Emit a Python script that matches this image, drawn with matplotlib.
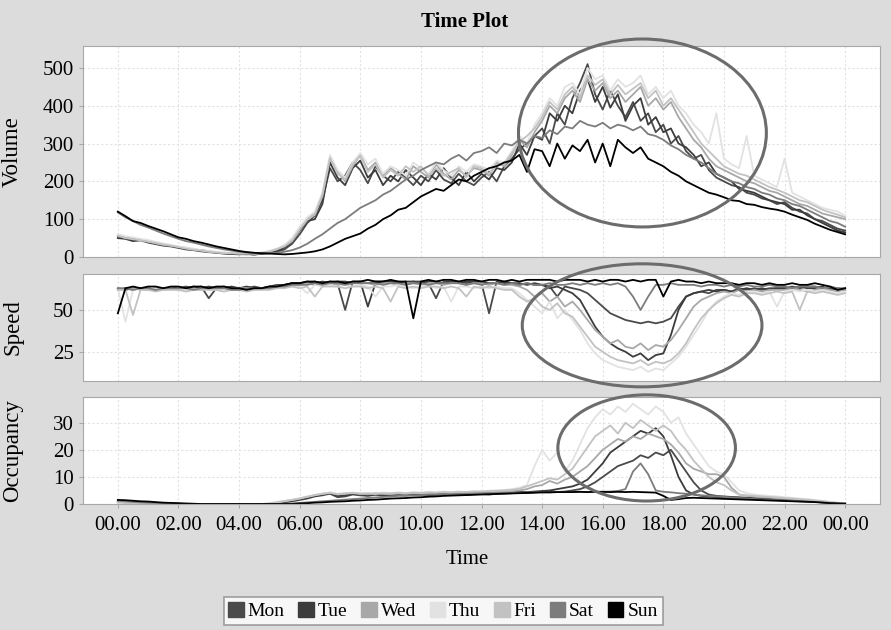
import numpy as np
import matplotlib.pyplot as plt
from matplotlib.patches import Ellipse, Patch

plt.rcParams['font.family'] = ['Liberation Serif', 'DejaVu Serif']

# 15-minute samples, 00.00 to 24.00
hours = np.arange(97) * 0.25
tick_hours = list(range(0, 25, 2))
tick_labels = ['00.00', '02.00', '04.00', '06.00', '08.00', '10.00', '12.00',
               '14.00', '16.00', '18.00', '20.00', '22.00', '00.00']

days = ['Mon', 'Tue', 'Wed', 'Thu', 'Fri', 'Sat', 'Sun']
day_colors = ['#4a4a4a', '#3c3c3c', '#a8a8a8', '#e2e2e2', '#c2c2c2', '#7c7c7c', '#000000']

# ---- Volume ----
mon_volume = [55, 50, 48, 45, 40, 38, 33, 30, 26, 22, 20, 18, 15, 12, 10, 9, 8, 7, 9, 8,
              10, 14, 20, 35, 60, 90, 110, 150, 235, 200, 215, 250, 230, 195, 240, 215,
              200, 225, 210, 190, 215, 200, 230, 205, 195, 220, 200, 190, 210, 225, 200, 240,
              260, 285, 300, 320, 340, 300, 380, 350, 420, 460, 510, 430, 390, 440, 400, 370,
              410, 360, 380, 330, 350, 300, 320, 280, 260, 270, 230, 210, 200, 190, 185, 170,
              165, 155, 150, 140, 145, 130, 120, 115, 100, 95, 85, 75, 70]
tue_volume = [50, 48, 42, 44, 38, 34, 30, 28, 24, 20, 18, 15, 13, 11, 9, 8, 7, 8, 6, 9,
              12, 16, 25, 40, 70, 95, 100, 140, 250, 210, 190, 235, 255, 210, 230, 190,
              215, 200, 230, 210, 190, 220, 205, 235, 210, 190, 225, 200, 220, 205, 235, 230,
              250, 300, 270, 320, 310, 380, 360, 400, 380, 440, 470, 410, 450, 395, 430, 360,
              400, 420, 350, 370, 330, 340, 300, 290, 270, 240, 250, 220, 210, 200, 180, 175,
              170, 160, 150, 145, 140, 125, 125, 110, 100, 90, 80, 70, 65]
wed_volume = [58, 52, 50, 46, 42, 36, 32, 30, 27, 24, 20, 17, 14, 12, 11, 10, 9, 10, 8, 10,
              14, 20, 30, 45, 75, 100, 115, 160, 260, 225, 200, 240, 270, 230, 250, 215,
              235, 220, 205, 240, 225, 210, 245, 220, 205, 230, 215, 235, 230, 215, 250, 240,
              270, 310, 290, 330, 360, 400, 380, 420, 440, 410, 470, 440, 460, 420, 440, 410,
              430, 450, 400, 420, 390, 410, 370, 340, 310, 290, 260, 240, 230, 220, 210, 200,
              195, 185, 175, 170, 160, 150, 140, 135, 125, 115, 110, 105, 100]
thu_volume = [60, 55, 52, 48, 45, 40, 36, 32, 28, 25, 22, 18, 16, 14, 12, 11, 10, 9, 11, 12,
              16, 22, 32, 50, 80, 105, 120, 170, 270, 230, 210, 250, 275, 245, 260, 220,
              240, 230, 215, 250, 235, 220, 250, 230, 215, 240, 225, 245, 240, 230, 255, 250,
              280, 320, 300, 350, 380, 420, 400, 450, 460, 430, 500, 470, 480, 440, 470, 450,
              460, 480, 430, 450, 420, 440, 400, 380, 350, 330, 300, 380, 260, 245, 235, 320,
              215, 205, 195, 185, 260, 170, 160, 150, 140, 130, 125, 120, 110]
fri_volume = [56, 50, 47, 44, 40, 37, 33, 30, 26, 22, 19, 17, 14, 12, 10, 10, 9, 10, 9, 11,
              15, 21, 28, 42, 72, 98, 112, 165, 262, 220, 205, 245, 268, 225, 245, 210,
              230, 215, 240, 225, 240, 215, 235, 215, 225, 235, 210, 240, 235, 220, 245, 245,
              275, 305, 320, 340, 370, 410, 390, 430, 450, 420, 480, 455, 470, 430, 455, 430,
              445, 460, 420, 440, 400, 420, 390, 360, 330, 300, 280, 260, 240, 230, 220, 215,
              205, 195, 185, 178, 170, 160, 150, 145, 135, 125, 118, 112, 105]
sat_volume = [118, 105, 95, 85, 78, 70, 62, 55, 48, 42, 38, 33, 28, 24, 20, 17, 14, 12, 11, 10,
              10, 11, 14, 18, 25, 35, 48, 60, 75, 90, 100, 115, 130, 140, 150, 165,
              175, 190, 205, 215, 230, 240, 250, 245, 260, 270, 255, 275, 280, 290, 275, 300,
              295, 310, 300, 320, 315, 335, 325, 345, 340, 360, 350, 345, 355, 340, 350, 345,
              335, 345, 325, 320, 310, 295, 285, 270, 260, 250, 235, 220, 210, 200, 195, 185,
              180, 170, 165, 155, 150, 140, 135, 125, 115, 105, 95, 90, 80]
sun_volume = [120, 108, 95, 90, 82, 75, 68, 60, 52, 48, 42, 38, 33, 28, 24, 20, 16, 13, 11, 10,
              9, 8, 7, 8, 10, 12, 15, 20, 28, 38, 48, 55, 62, 75, 85, 100,
              110, 125, 130, 145, 160, 170, 180, 175, 190, 205, 200, 215, 225, 235, 240, 250,
              255, 270, 225, 285, 280, 240, 300, 260, 295, 280, 310, 250, 300, 240, 310, 290,
              275, 290, 260, 250, 240, 225, 215, 200, 190, 180, 170, 165, 158, 150, 148, 140,
              138, 132, 128, 125, 120, 112, 105, 98, 88, 80, 72, 66, 60]

# ---- Speed ----
mon_speed = [62, 63, 62, 63, 63, 62, 63, 63, 63, 64, 63, 64, 57, 63, 64, 63, 63, 63, 64, 63,
             64, 65, 65, 66, 66, 66, 67, 66, 67, 66, 50, 67, 67, 66, 67, 67, 67, 67, 66, 67,
             67, 66, 57, 67, 67, 67, 66, 67, 66, 48, 67, 66, 66, 65, 66, 65, 65, 64, 58, 64,
             63, 62, 60, 56, 52, 48, 46, 44, 43, 42, 43, 42, 43, 45, 52, 58, 60, 61, 60, 62,
             62, 61, 63, 62, 63, 62, 63, 63, 63, 64, 63, 64, 64, 63, 63, 62, 62]
tue_speed = [63, 62, 63, 63, 62, 63, 62, 63, 63, 63, 64, 63, 64, 63, 63, 64, 63, 64, 63, 63,
             64, 64, 65, 66, 66, 67, 66, 67, 66, 67, 67, 66, 67, 52, 66, 67, 67, 66, 67, 67,
             66, 67, 67, 66, 67, 66, 67, 67, 67, 66, 66, 67, 66, 66, 65, 66, 65, 63, 64, 62,
             60, 56, 48, 40, 34, 30, 27, 25, 22, 24, 20, 23, 24, 35, 50, 58, 60, 61, 62, 61,
             62, 61, 62, 63, 62, 63, 62, 63, 63, 63, 64, 63, 63, 64, 62, 63, 62]
wed_speed = [62, 63, 63, 62, 63, 62, 63, 63, 62, 63, 63, 62, 63, 62, 63, 63, 63, 63, 62, 63,
             63, 64, 64, 65, 65, 66, 65, 66, 66, 65, 66, 66, 66, 66, 65, 66, 66, 65, 66, 66,
             65, 66, 66, 65, 66, 66, 65, 66, 66, 65, 66, 65, 65, 64, 62, 58, 60, 55, 58, 52,
             55, 50, 44, 38, 34, 30, 32, 28, 27, 30, 26, 29, 28, 32, 38, 45, 52, 56, 58, 60,
             61, 60, 62, 61, 62, 61, 62, 62, 62, 63, 62, 61, 62, 63, 62, 61, 62]
thu_speed = [63, 43, 62, 63, 62, 63, 62, 62, 63, 62, 62, 63, 62, 62, 63, 62, 62, 63, 62, 62,
             63, 63, 64, 64, 64, 60, 65, 64, 65, 64, 65, 64, 65, 64, 58, 64, 64, 65, 64, 63,
             64, 65, 63, 64, 55, 64, 64, 63, 64, 63, 64, 63, 63, 60, 56, 52, 48, 55, 45, 50,
             44, 38, 30, 24, 20, 18, 16, 15, 14, 16, 13, 15, 14, 18, 22, 28, 35, 42, 50, 55,
             58, 60, 59, 61, 61, 60, 61, 52, 61, 62, 61, 62, 61, 62, 61, 60, 61]
fri_speed = [62, 62, 47, 62, 62, 61, 62, 62, 62, 61, 62, 62, 62, 62, 61, 62, 62, 61, 62, 62,
             62, 63, 63, 64, 63, 64, 58, 64, 64, 64, 63, 64, 64, 63, 64, 63, 55, 64, 63, 64,
             63, 64, 64, 63, 64, 63, 58, 64, 63, 64, 63, 62, 62, 58, 55, 57, 52, 50, 54, 48,
             46, 40, 34, 28, 25, 22, 20, 19, 18, 20, 17, 19, 18, 20, 24, 30, 38, 45, 50, 54,
             57, 59, 58, 60, 60, 59, 60, 61, 60, 61, 50, 61, 60, 61, 60, 59, 60]
sat_speed = [63, 63, 62, 63, 63, 62, 63, 63, 63, 63, 62, 63, 63, 63, 63, 62, 62, 63, 63, 63,
             63, 64, 64, 65, 65, 65, 66, 65, 66, 66, 65, 66, 66, 66, 66, 65, 66, 66, 65, 66,
             66, 65, 66, 66, 66, 66, 65, 66, 65, 66, 66, 65, 66, 65, 66, 65, 65, 66, 65, 65,
             66, 65, 66, 65, 66, 65, 66, 64, 58, 50, 58, 65, 65, 66, 65, 65, 65, 64, 65, 65,
             64, 65, 64, 65, 64, 64, 65, 64, 64, 63, 64, 64, 64, 63, 64, 63, 63]
sun_speed = [48, 63, 64, 63, 64, 64, 63, 64, 64, 63, 64, 64, 63, 64, 64, 63, 63, 62, 63, 63,
             64, 64, 65, 66, 66, 67, 67, 66, 67, 67, 66, 67, 67, 68, 67, 67, 68, 67, 67, 45,
             67, 68, 67, 68, 68, 67, 68, 68, 67, 68, 68, 67, 68, 67, 68, 68, 68, 68, 67, 68,
             68, 68, 67, 68, 67, 68, 68, 67, 68, 67, 68, 68, 58, 67, 68, 67, 67, 66, 67, 66,
             66, 66, 65, 66, 66, 65, 66, 65, 65, 66, 65, 65, 66, 65, 64, 62, 63]

# ---- Occupancy ----
mon_occupancy = [1.0, 0.8, 0.5, 0.5, 0.3, 0.2, 0.1, 0.1, 0.1, 0, 0, 0, 0, 0, 0, 0, 0, 0, 0, 0,
                 0, 0.2, 0.6, 1.0, 1.5, 2.0, 2.8, 3.2, 3.8, 2.5, 2.8, 3.5, 3.2, 3.0, 3.4, 3.1,
                 3.0, 3.3, 3.1, 3.4, 3.5, 3.2, 3.4, 3.6, 3.3, 3.5, 3.4, 3.6, 3.7, 3.5, 3.8, 3.9,
                 4.0, 4.2, 4.0, 4.3, 4.5, 4.8, 4.4, 4.6, 5.0, 5.5, 6.5, 8.0, 10, 12, 14, 15,
                 16, 18, 17, 19, 18, 20, 16, 12, 8, 5, 3.5, 3.0, 2.8, 2.6, 2.5, 2.3,
                 2.2, 2.0, 1.9, 1.8, 1.6, 1.5, 1.3, 1.2, 1.0, 0.8, 0.6, 0.3, 0.2]
tue_occupancy = [0.8, 0.6, 0.5, 0.4, 0.3, 0.2, 0.1, 0.1, 0, 0, 0, 0, 0, 0, 0, 0, 0, 0, 0, 0,
                 0, 0.3, 0.7, 1.2, 1.8, 2.4, 3.0, 3.5, 4.0, 3.0, 3.2, 3.8, 3.5, 3.2, 3.6, 3.3,
                 3.4, 3.6, 3.3, 3.5, 3.7, 3.4, 3.6, 3.8, 3.6, 3.8, 3.5, 3.9, 4.0, 3.8, 4.1, 4.2,
                 4.3, 4.5, 4.4, 4.6, 4.8, 5.0, 5.5, 6.0, 6.5, 7.5, 9.0, 12, 15, 19, 21, 23,
                 25, 27, 26, 28, 25, 18, 10, 5, 3.5, 3.0, 2.8, 2.6, 2.5, 2.4, 2.2, 2.0,
                 1.9, 1.8, 1.6, 1.5, 1.4, 1.3, 1.2, 1.0, 0.8, 0.6, 0.4, 0.3, 0.2]
wed_occupancy = [0.6, 0.5, 0.4, 0.3, 0.2, 0.2, 0.1, 0.1, 0, 0, 0, 0, 0, 0, 0, 0, 0, 0, 0, 0,
                 0.1, 0.5, 1.0, 1.5, 2.0, 2.6, 3.2, 3.8, 4.2, 3.5, 3.8, 4.0, 3.8, 3.6, 4.0, 3.7,
                 3.6, 3.9, 3.7, 4.0, 4.0, 3.8, 4.1, 4.2, 3.9, 4.2, 4.0, 4.3, 4.3, 4.1, 4.5, 4.6,
                 4.8, 5.0, 5.5, 6.5, 7.0, 8.5, 7.5, 9.0, 10, 12, 14, 17, 20, 22, 24, 23,
                 25, 24, 26, 25, 24, 22, 19, 15, 13, 12, 11, 11, 10, 6, 3.5, 3.0,
                 2.8, 2.5, 2.4, 2.2, 2.0, 1.8, 1.6, 1.4, 1.2, 1.0, 0.7, 0.4, 0.2]
thu_occupancy = [0.7, 0.6, 0.5, 0.4, 0.3, 0.2, 0.2, 0.1, 0, 0, 0, 0, 0, 0, 0, 0, 0, 0, 0, 0,
                 0.3, 0.8, 1.2, 1.6, 2.2, 2.8, 3.4, 3.9, 4.3, 3.8, 4.0, 4.2, 3.9, 4.1, 3.8, 4.2,
                 4.0, 4.3, 4.1, 4.4, 4.2, 4.5, 4.3, 4.6, 4.4, 4.6, 4.5, 4.8, 4.7, 4.9, 5.0, 5.2,
                 5.5, 6.0, 7.0, 14, 20, 16, 19, 12, 16, 22, 28, 32, 35, 33, 36, 34,
                 37, 35, 33, 36, 34, 30, 32, 26, 22, 18, 14, 12, 11, 8, 5, 4.0,
                 3.5, 3.2, 3.0, 2.8, 2.5, 2.3, 2.0, 1.8, 1.5, 1.2, 0.8, 0.5, 0.3]
fri_occupancy = [0.6, 0.5, 0.4, 0.4, 0.3, 0.2, 0.1, 0.1, 0, 0, 0, 0, 0, 0, 0, 0, 0, 0, 0, 0,
                 0.2, 0.6, 1.1, 1.5, 2.0, 2.7, 3.3, 3.7, 4.1, 3.6, 3.9, 4.1, 3.8, 3.9, 3.7, 4.0,
                 3.9, 4.1, 3.9, 4.2, 4.1, 4.3, 4.2, 4.4, 4.3, 4.5, 4.4, 4.6, 4.6, 4.8, 4.9, 5.0,
                 5.2, 5.6, 6.5, 7.5, 8.5, 9.5, 9.0, 11, 13, 17, 21, 25, 27, 29, 26, 30,
                 28, 31, 29, 27, 29, 27, 23, 20, 16, 13, 10, 8, 7, 5, 3.5, 3.2,
                 3.0, 2.8, 2.6, 2.4, 2.2, 2.0, 1.8, 1.6, 1.3, 1.0, 0.7, 0.4, 0.2]
sat_occupancy = [1.2, 1.0, 0.8, 0.6, 0.5, 0.4, 0.3, 0.2, 0.1, 0, 0, 0, 0, 0, 0, 0, 0, 0, 0, 0,
                 0, 0, 0.1, 0.2, 0.4, 0.6, 0.8, 1.0, 1.2, 1.4, 1.6, 1.8, 2.0, 2.2, 2.4, 2.6,
                 2.8, 3.0, 3.1, 3.2, 3.3, 3.4, 3.5, 3.6, 3.6, 3.7, 3.8, 3.8, 3.9, 4.0, 4.0, 4.1,
                 4.1, 4.2, 4.2, 4.3, 4.3, 4.3, 4.4, 4.4, 4.4, 4.5, 4.4, 4.5, 4.5, 4.6, 4.8, 5.5,
                 12, 15, 11, 5, 4.5, 4.3, 4.0, 3.8, 3.5, 3.2, 3.0, 2.8, 2.6, 2.4, 2.2, 2.0,
                 1.8, 1.6, 1.5, 1.4, 1.3, 1.2, 1.0, 0.9, 0.8, 0.6, 0.4, 0.3, 0.2]
sun_occupancy = [1.5, 1.4, 1.2, 1.0, 0.9, 0.7, 0.5, 0.4, 0.3, 0.2, 0.1, 0, 0, 0, 0, 0, 0, 0, 0, 0,
                 0, 0, 0, 0, 0.2, 0.3, 0.5, 0.6, 0.8, 0.9, 1.0, 1.2, 1.3, 1.5, 1.6, 1.8,
                 2.0, 2.1, 2.2, 2.4, 2.5, 2.7, 2.8, 3.0, 3.1, 3.2, 3.3, 3.4, 3.5, 3.6, 3.7, 3.8,
                 3.9, 4.0, 4.1, 4.2, 4.3, 4.3, 4.4, 4.4, 4.4, 4.5, 4.4, 4.5, 4.5, 4.4, 4.5, 4.4,
                 4.5, 4.4, 4.3, 4.2, 3.0, 1.5, 1.8, 2.2, 2.3, 2.2, 2.1, 2.0, 1.9, 1.8, 1.7, 1.6,
                 1.5, 1.4, 1.3, 1.2, 1.1, 1.0, 0.9, 0.8, 0.7, 0.5, 0.3, 0.2, 0.1]

volume = [mon_volume, tue_volume, wed_volume, thu_volume, fri_volume, sat_volume, sun_volume]
speed = [mon_speed, tue_speed, wed_speed, thu_speed, fri_speed, sat_speed, sun_speed]
occupancy = [mon_occupancy, tue_occupancy, wed_occupancy, thu_occupancy,
             fri_occupancy, sat_occupancy, sun_occupancy]

# highlighted congestion regions (centre hour, width in hours, centre value, height)
volume_ring = (17.31, 8.18, 328, 497)
speed_ring = (17.30, 7.91, 40.8, 73.6)
occupancy_ring = (17.45, 5.86, 20.7, 39.2)


def draw_panel(ax, series, ylabel, ylim, yticks, ring):
    ax.set_facecolor('white')
    for values, color in zip(series, day_colors):
        ax.plot(hours, values, color=color, lw=1.3)
    ax.set_xlim(-1.15, 25.15)
    ax.set_ylim(*ylim)
    ax.set_yticks(yticks)
    ax.set_xticks(tick_hours)
    ax.grid(True, color='#e2e2e2', linestyle=(0, (2, 2)), lw=0.8)
    ax.set_axisbelow(True)
    for spine in ax.spines.values():
        spine.set_color('#a8a8a8')
    ax.tick_params(colors='#a8a8a8', labelcolor='black', labelsize=15, length=3, width=0.8)
    ax.set_ylabel(ylabel, fontsize=16.5)
    ax.yaxis.set_label_coords(-0.075, 0.5)
    cx, w, cy, h = ring
    ax.add_patch(Ellipse((cx, cy), w, h, fill=False, edgecolor='#6c6c6c', lw=2.2,
                         clip_on=False, zorder=5))


def main():
    fig = plt.figure(figsize=(8.91, 6.3), dpi=100, facecolor='#dcdcdc')
    left, width = 83 / 891, 797 / 891
    ax_vol = fig.add_axes([left, 1 - 257 / 630, width, 211 / 630])
    ax_spd = fig.add_axes([left, 1 - 381 / 630, width, 107 / 630])
    ax_occ = fig.add_axes([left, 1 - 504 / 630, width, 107 / 630])

    draw_panel(ax_vol, volume, 'Volume', (0, 558), [0, 100, 200, 300, 400, 500], volume_ring)
    draw_panel(ax_spd, speed, 'Speed', (7.5, 71.5), [25, 50], speed_ring)
    draw_panel(ax_occ, occupancy, 'Occupancy', (0, 39.5), [0, 10, 20, 30], occupancy_ring)

    for ax in (ax_vol, ax_spd):
        ax.tick_params(axis='x', labelbottom=False, length=0)
    ax_occ.set_xticklabels(tick_labels)
    ax_occ.tick_params(axis='x', pad=6)

    fig.text(465 / 891, 1 - 22 / 630, 'Time Plot', ha='center', va='center',
             fontsize=15, fontweight='bold')
    fig.text(467 / 891, 1 - 560 / 630, 'Time', ha='center', va='center', fontsize=15)

    handles = [Patch(facecolor=c, edgecolor=c, label=d) for d, c in zip(days, day_colors)]
    leg = fig.legend(handles=handles, loc='center', bbox_to_anchor=(443 / 891, 1 - 611 / 630),
                     ncol=7, fontsize=14, frameon=True, fancybox=False,
                     handlelength=0.8, handleheight=0.8, handletextpad=0.2,
                     columnspacing=0.7, borderpad=0.25, borderaxespad=0)
    leg.get_frame().set_edgecolor('#8a8a8a')
    leg.get_frame().set_linewidth(1.2)

    fig.savefig('out.png', dpi=100, facecolor=fig.get_facecolor())


if __name__ == '__main__':
    main()
